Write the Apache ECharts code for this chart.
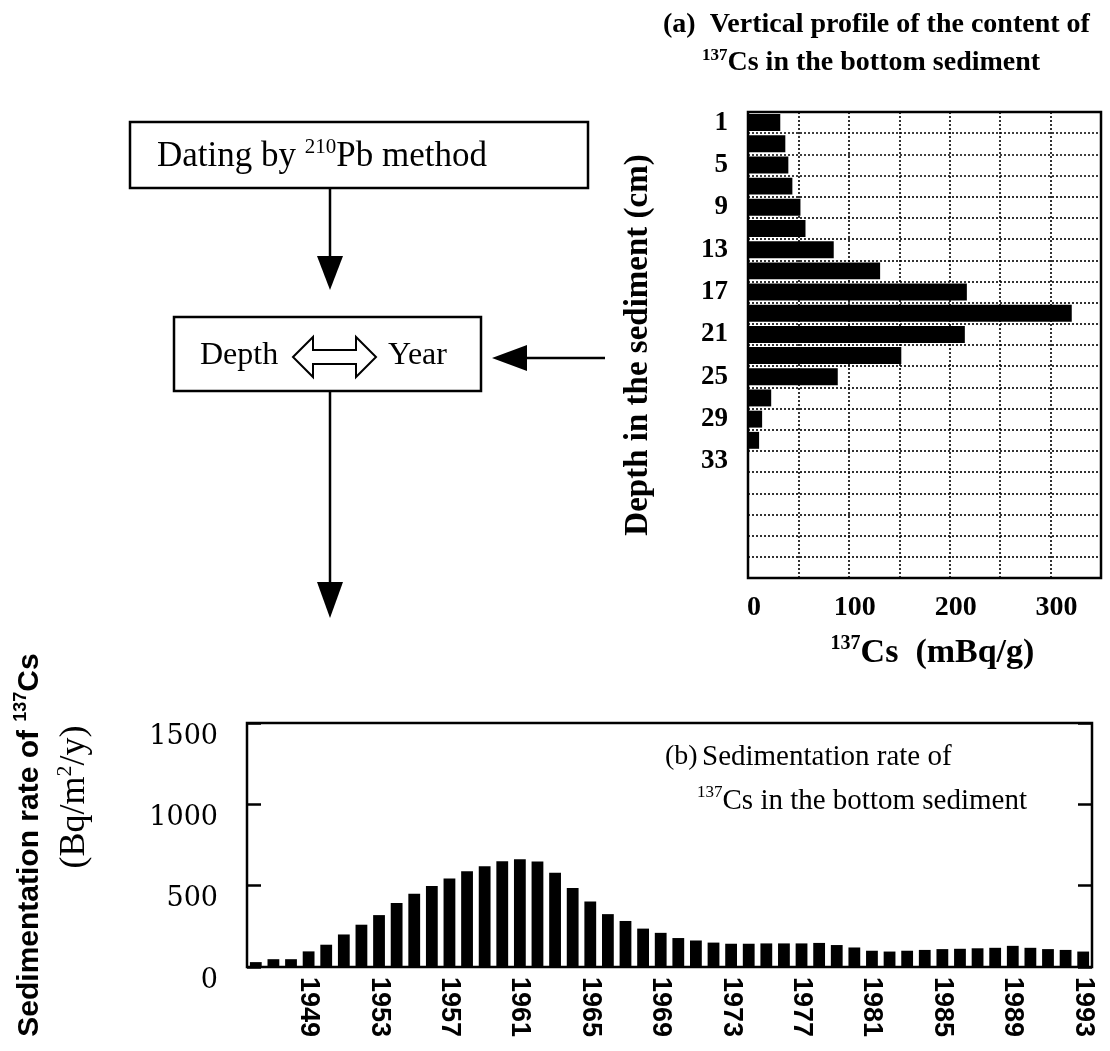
<!DOCTYPE html>
<html>
<head>
<meta charset="utf-8">
<title>137Cs profile and sedimentation rate</title>
<script src="https://cdn.jsdelivr.net/npm/echarts@6/dist/echarts.min.js"></script>
<style>
  html, body { margin: 0; padding: 0; background: #fff; }
  #main { width: 1110px; height: 1051px; }
</style>
</head>
<body>
<div id="main"></div>
<script>
// (a) depth classes (cm), 2 cm slices, and 137Cs content (mBq/g)
var depthCats = ['1', '3', '5', '7', '9', '11', '13', '15', '17', '19', '21',
  '23', '25', '27', '29', '31', '33', '35', '37', '39', '41', '43'];
var csContent = [32, 37, 40, 44, 52, 57, 85, 131, 217, 321, 215, 152, 89, 23, 14, 11];
var csTicks = [0, 100, 200, 300];

// (b) years and 137Cs sedimentation rate (Bq/m2/y)
var years = ['1946', '1947', '1948', '1949', '1950', '1951', '1952', '1953', '1954', '1955',
  '1956', '1957', '1958', '1959', '1960', '1961', '1962', '1963', '1964', '1965',
  '1966', '1967', '1968', '1969', '1970', '1971', '1972', '1973', '1974', '1975',
  '1976', '1977', '1978', '1979', '1980', '1981', '1982', '1983', '1984', '1985',
  '1986', '1987', '1988', '1989', '1990', '1991', '1992', '1993'];
var sedRate = [30, 48, 48, 96, 137, 200, 260, 319, 394, 450,
  498, 544, 589, 619, 650, 663, 648, 579, 486, 402,
  325, 283, 236, 210, 178, 163, 150, 143, 143, 145,
  145, 145, 148, 135, 120, 100, 95, 100, 105, 110,
  112, 115, 118, 130, 118, 110, 105, 95];
var yearTicks = ['1949', '1953', '1957', '1961', '1965', '1969', '1973',
  '1977', '1981', '1985', '1989', '1993'];
var depthTicks = ['1', '5', '9', '13', '17', '21', '25', '29', '33'];

const SERIF = '"Liberation Serif", "Times New Roman", serif';
const SANS = '"Liberation Sans", Arial, sans-serif';

var chart = echarts.init(document.getElementById('main'));

// superscript helper styles for rich text
function supStyles(size, bold, family) {
  var w = bold ? 'bold' : 'normal';
  var f = family || SERIF;
  return {
    s: { fontSize: Math.round(size * 0.6), fontFamily: f, fontWeight: w, verticalAlign: 'top', lineHeight: Math.round(size * 0.6), fill: '#000', color: '#000' },
    n: { fontSize: size, fontFamily: f, fontWeight: w, lineHeight: Math.round(size * 1.15), fill: '#000', color: '#000' }
  };
}

function txt(x, y, text, size, bold, opts) {
  opts = opts || {};
  return {
    type: 'text',
    x: x,
    y: y,
    rotation: opts.rotation || 0,
    style: {
      text: text,
      fill: '#000',
      fontSize: size,
      fontFamily: opts.family || SERIF,
      fontWeight: bold ? 'bold' : 'normal',
      align: opts.align || 'left',
      verticalAlign: 'middle',
      rich: supStyles(size, bold, opts.family)
    }
  };
}

var lineStyle = { stroke: '#000', lineWidth: 2.5 };

var graphics = [
  // title of (a)
  txt(663, 25, '{n|(a)  Vertical profile of the content of}', 28, true),
  txt(702, 63, '{s|137}{n|Cs in the bottom sediment}', 28, true),

  // flow chart
  { type: 'rect', shape: { x: 130, y: 122, width: 458, height: 66 }, style: { fill: 'none', stroke: '#000', lineWidth: 2.5 } },
  txt(157, 157, '{n|Dating by }{s|210}{n|Pb method}', 35, false),
  { type: 'line', shape: { x1: 330, y1: 189, x2: 330, y2: 260 }, style: lineStyle },
  { type: 'polygon', shape: { points: [[317, 256], [343, 256], [330, 290]] }, style: { fill: '#000' } },

  { type: 'rect', shape: { x: 174, y: 317, width: 307, height: 74 }, style: { fill: 'none', stroke: '#000', lineWidth: 2.5 } },
  txt(200, 356, '{n|Depth}', 32, false),
  txt(388, 356, '{n|Year}', 32, false),
  {
    type: 'polygon',
    shape: { points: [[293, 357], [313, 337], [313, 350], [356, 350], [356, 337], [376, 357],
      [356, 377], [356, 364], [313, 364], [313, 377]] },
    style: { fill: '#fff', stroke: '#000', lineWidth: 2 }
  },
  { type: 'line', shape: { x1: 605, y1: 358, x2: 522, y2: 358 }, style: lineStyle },
  { type: 'polygon', shape: { points: [[492, 358], [527, 345], [527, 371]] }, style: { fill: '#000' } },

  { type: 'line', shape: { x1: 330, y1: 392, x2: 330, y2: 586 }, style: lineStyle },
  { type: 'polygon', shape: { points: [[317, 582], [343, 582], [330, 618]] }, style: { fill: '#000' } },

  // (b) y axis title, two lines
  txt(30, 845, '{n|Sedimentation rate of }{s|137}{n|Cs}', 30, true, { rotation: Math.PI / 2, align: 'center', family: SANS }),
  txt(75, 797, '{n|(Bq/m}{s|2}{n|/y)}', 36, false, { rotation: Math.PI / 2, align: 'center' }),

  // (b) caption inside the plot
  txt(665, 757, '{n|(b)}', 28, false),
  txt(702, 757, '{n|Sedimentation rate of}', 29, false),
  txt(697, 801, '{s|137}{n|Cs in the bottom sediment}', 29, false)
];

var dotted = { color: '#000', type: [2, 2], width: 1.6 };

var option = {
  backgroundColor: '#fff',
  animation: false,
  grid: [
    { left: 748, top: 112, width: 353, height: 466, show: true, borderColor: '#000', borderWidth: 2.5, backgroundColor: 'transparent', outerBoundsMode: 'none', containLabel: false },
    { left: 247, top: 723, width: 845, height: 244, show: true, borderColor: '#000', borderWidth: 2.5, backgroundColor: 'transparent', outerBoundsMode: 'none', containLabel: false }
  ],
  xAxis: [
    {
      gridIndex: 0,
      type: 'value',
      min: 0,
      max: 350,
      interval: 50,
      axisLine: { show: false },
      axisTick: { show: false },
      splitLine: { show: true, lineStyle: dotted },
      axisLabel: {
        color: '#000',
        fontFamily: SERIF,
        fontWeight: 'bold',
        fontSize: 28,
        margin: 16,
        padding: [0, 0, 0, 12],
        formatter: function (v) { return csTicks.indexOf(v) >= 0 ? String(v) : ''; }
      },
      name: '{s|137}{n|Cs  (mBq/g)}',
      nameLocation: 'middle',
      nameGap: 56,
      nameTextStyle: { rich: supStyles(34, true), padding: [0, 0, 0, 16] }
    },
    {
      gridIndex: 1,
      type: 'category',
      data: years,
      axisLine: { show: false },
      axisTick: { show: false },
      axisLabel: {
        interval: 0,
        rotate: -90,
        margin: 10,
        color: '#000',
        fontFamily: SANS,
        fontWeight: 'bold',
        fontSize: 27,
        formatter: function (v) { return yearTicks.indexOf(v) >= 0 ? v : ''; }
      }
    }
  ],
  yAxis: [
    {
      gridIndex: 0,
      type: 'category',
      inverse: true,
      data: depthCats,
      axisLine: { show: false },
      axisTick: { show: false },
      splitLine: { show: true, interval: 0, lineStyle: dotted },
      axisLabel: {
        interval: 0,
        margin: 20,
        color: '#000',
        fontFamily: SERIF,
        fontWeight: 'bold',
        fontSize: 27,
        formatter: function (v) { return depthTicks.indexOf(v) >= 0 ? v : ''; }
      },
      name: 'Depth in the sediment (cm)',
      nameLocation: 'middle',
      nameRotate: 90,
      nameGap: 93,
      nameTextStyle: { color: '#000', fontFamily: SERIF, fontWeight: 'bold', fontSize: 33 }
    },
    {
      gridIndex: 1,
      type: 'value',
      min: 0,
      max: 1500,
      interval: 500,
      axisLine: { show: false },
      axisTick: { show: true, inside: true, length: 14, lineStyle: { color: '#000', width: 2.5 } },
      splitLine: { show: false },
      axisLabel: {
        margin: 29,
        color: '#000',
        fontFamily: '"DejaVu Serif", serif',
        fontSize: 27,
        verticalAlign: 'top',
        formatter: function (v) { return String(v); }
      }
    },
    {
      gridIndex: 1,
      type: 'value',
      position: 'right',
      min: 0,
      max: 1500,
      interval: 500,
      axisLine: { show: false },
      axisTick: { show: true, inside: true, length: 14, lineStyle: { color: '#000', width: 2.5 } },
      splitLine: { show: false },
      axisLabel: { show: false }
    }
  ],
  series: [
    {
      name: '137Cs content',
      type: 'bar',
      xAxisIndex: 0,
      yAxisIndex: 0,
      data: csContent,
      barCategoryGap: '20%',
      itemStyle: { color: '#000' }
    },
    {
      name: '137Cs sedimentation rate',
      type: 'bar',
      xAxisIndex: 1,
      yAxisIndex: 1,
      data: sedRate,
      barCategoryGap: '33%',
      itemStyle: { color: '#000' }
    }
  ],
  graphic: graphics
};

chart.setOption(option);
</script>
</body>
</html>
